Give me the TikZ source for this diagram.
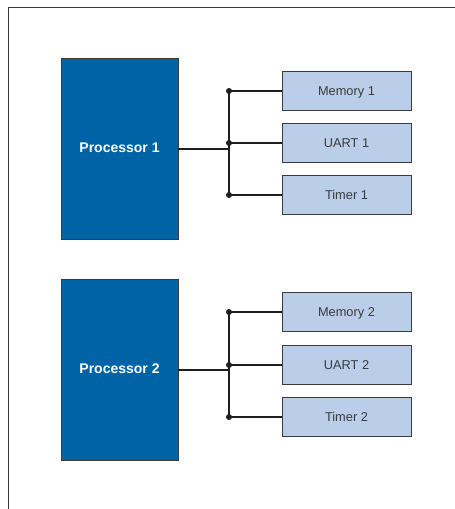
\documentclass[tikz,border=0pt]{standalone}
\usepackage{fontspec}
\setmainfont{Liberation Sans}
\definecolor{procblue}{HTML}{0063A6}
\definecolor{periph}{HTML}{BACEEA}
\definecolor{edgegray}{HTML}{3A3A3A}
\definecolor{wiregray}{HTML}{1E1E1E}
\begin{document}
\begin{tikzpicture}[x=1pt,y=-1pt,
  proc/.style={draw=edgegray, line width=0.8pt, fill=procblue, minimum width=117pt, minimum height=181pt, inner sep=0pt, text=white, text height=0.72em, text depth=0pt, font=\fontsize{14}{16}\selectfont\bfseries},
  per/.style={draw=edgegray, line width=0.9pt, fill=periph, minimum width=129pt, minimum height=38.5pt, inner sep=0pt, text=edgegray, text height=0.95em, text depth=0pt, font=\fontsize{12.8}{15}\selectfont},
  wire/.style={draw=wiregray, line width=2pt},
  junc/.style={fill=wiregray, circle, inner sep=0pt, minimum size=6pt},
  frame/.style={draw=edgegray, line width=1pt}]
\useasboundingbox (0,0) rectangle (455,509);
% frame
\coordinate (fTR) at (455,7.5);
\coordinate (fTL) at (8,7.5);
\coordinate (fBL) at (8,509);
\draw[frame] (fTR) -- (fTL) -- (fBL);
% group 1
\node[proc] (p1) at (119.5,148.5) {Processor 1};
\node[per] (m1) at (346.5,91) {Memory 1};
\node[per] (u1) at (346.5,143) {UART 1};
\node[per] (t1) at (346.5,195) {Timer 1};
\coordinate (bus1) at (229,0);
\coordinate (p1o) at ([yshift=-0.5pt]p1.east);
\draw[wire] (p1o) -- (p1o -| bus1);
\draw[wire] (m1.west -| bus1) -- (t1.west -| bus1);
\foreach \n in {m1,u1,t1}{
  \draw[wire] (\n.west -| bus1) -- (\n.west);
  \node[junc] at (\n.west -| bus1) {};
}
% group 2
\node[proc] (p2) at (119.5,369.5) {Processor 2};
\node[per] (m2) at (346.5,312) {Memory 2};
\node[per] (u2) at (346.5,365) {UART 2};
\node[per] (t2) at (346.5,417) {Timer 2};
\coordinate (bus2) at (229,0);
\coordinate (p2o) at ([yshift=-0.5pt]p2.east);
\draw[wire] (p2o) -- (p2o -| bus2);
\draw[wire] (m2.west -| bus2) -- (t2.west -| bus2);
\foreach \n in {m2,u2,t2}{
  \draw[wire] (\n.west -| bus2) -- (\n.west);
  \node[junc] at (\n.west -| bus2) {};
}
\end{tikzpicture}
\end{document}
